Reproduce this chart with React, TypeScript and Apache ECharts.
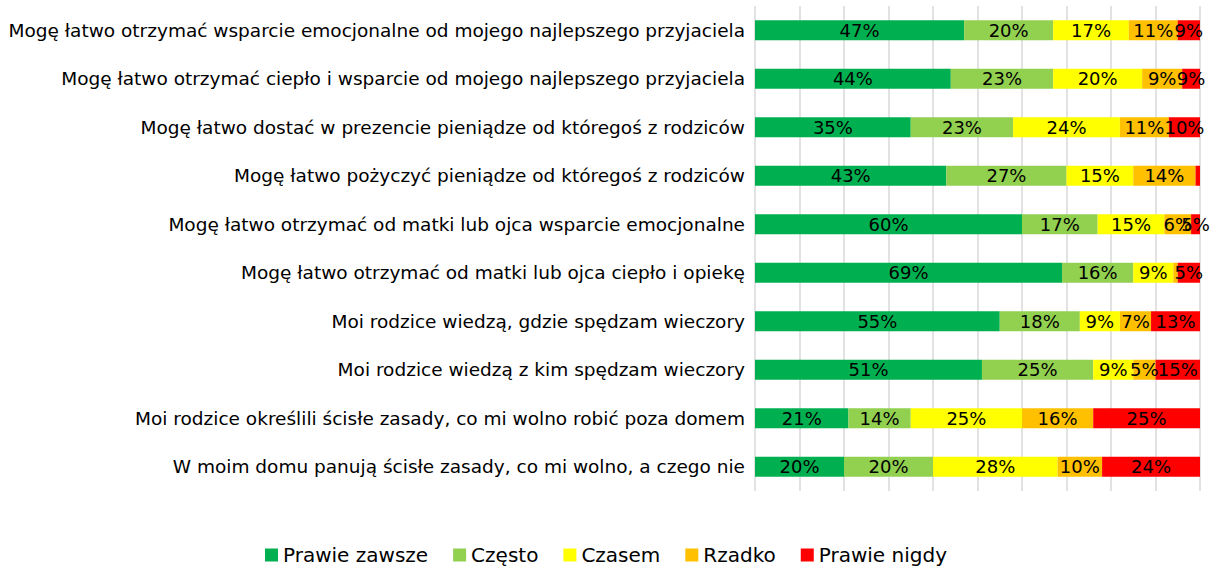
import React, { useEffect, useRef } from "react";
import * as echarts from "echarts";

const categories = [
  "Mogę łatwo otrzymać wsparcie emocjonalne od mojego najlepszego przyjaciela",
  "Mogę łatwo otrzymać ciepło i wsparcie od mojego najlepszego przyjaciela",
  "Mogę łatwo dostać w prezencie pieniądze od któregoś z rodziców",
  "Mogę łatwo pożyczyć pieniądze od któregoś z rodziców",
  "Mogę łatwo otrzymać od matki lub ojca wsparcie emocjonalne",
  "Mogę łatwo otrzymać od matki lub ojca ciepło i opiekę",
  "Moi rodzice wiedzą, gdzie spędzam wieczory",
  "Moi rodzice wiedzą z kim spędzam wieczory",
  "Moi rodzice określili ścisłe zasady, co mi wolno robić poza domem",
  "W moim domu panują ścisłe zasady, co mi wolno, a czego nie",
];

const seriesNames = ["Prawie zawsze", "Często", "Czasem", "Rzadko", "Prawie nigdy"];
const seriesColors = ["#00B050", "#92D050", "#FFFF00", "#FFC000", "#FF0000"];

const prawieZawsze = [47, 44, 35, 43, 60, 69, 55, 51, 21, 20];
const czesto = [20, 23, 23, 27, 17, 16, 18, 25, 14, 20];
const czasem = [17, 20, 24, 15, 15, 9, 9, 9, 25, 28];
const rzadko = [11, 9, 11, 14, 6, 1, 7, 5, 16, 10];
const prawieNigdy = [9, 9, 10, 1, 5, 5, 13, 15, 25, 24];

const seriesValues = [prawieZawsze, czesto, czasem, rzadko, prawieNigdy];

const FONT = "DejaVu Sans";

export default function App() {
  const ref = useRef<HTMLDivElement>(null);
  useEffect(() => {
    document.body.style.margin = "0";
    if (!ref.current) return;
    const chart = echarts.init(ref.current, null, { renderer: "svg" });
    chart.setOption({
      animation: false,
      textStyle: { fontFamily: FONT },
      grid: { left: 755, right: 12, top: 6, bottom: 80, containLabel: false },
      legend: {
        top: 545,
        left: "center",
        padding: 0,
        itemWidth: 13,
        itemHeight: 13,
        itemGap: 25,
        icon: "rect",
        textStyle: { fontFamily: FONT, fontSize: 20, color: "#000" },
        data: seriesNames,
      },
      xAxis: {
        type: "value",
        min: 0,
        max: 100,
        interval: 10,
        axisLabel: { show: false },
        axisLine: { show: false },
        axisTick: { show: false },
        splitLine: { show: true, lineStyle: { color: "#d9d9d9", width: 1.5 } },
      },
      yAxis: {
        type: "category",
        inverse: true,
        data: categories,
        axisLine: { show: false },
        axisTick: { show: false },
        axisLabel: { color: "#000", fontSize: 18.5, margin: 10, fontFamily: FONT },
      },
      series: seriesNames.map((name, i) => ({
        name,
        type: "bar",
        stack: "total",
        barWidth: 20,
        clip: true,
        itemStyle: { color: seriesColors[i] },
        label: {
          show: true,
          position: "inside",
          color: "#000",
          fontSize: 18,
          fontFamily: FONT,
          formatter: (p: any) => (p.value < 2 ? "" : p.value + "%"),
        },
        data: seriesValues[i],
      })),
    });
    return () => chart.dispose();
  }, []);
  return <div ref={ref} style={{ width: 1212, height: 571 }} />;
}
